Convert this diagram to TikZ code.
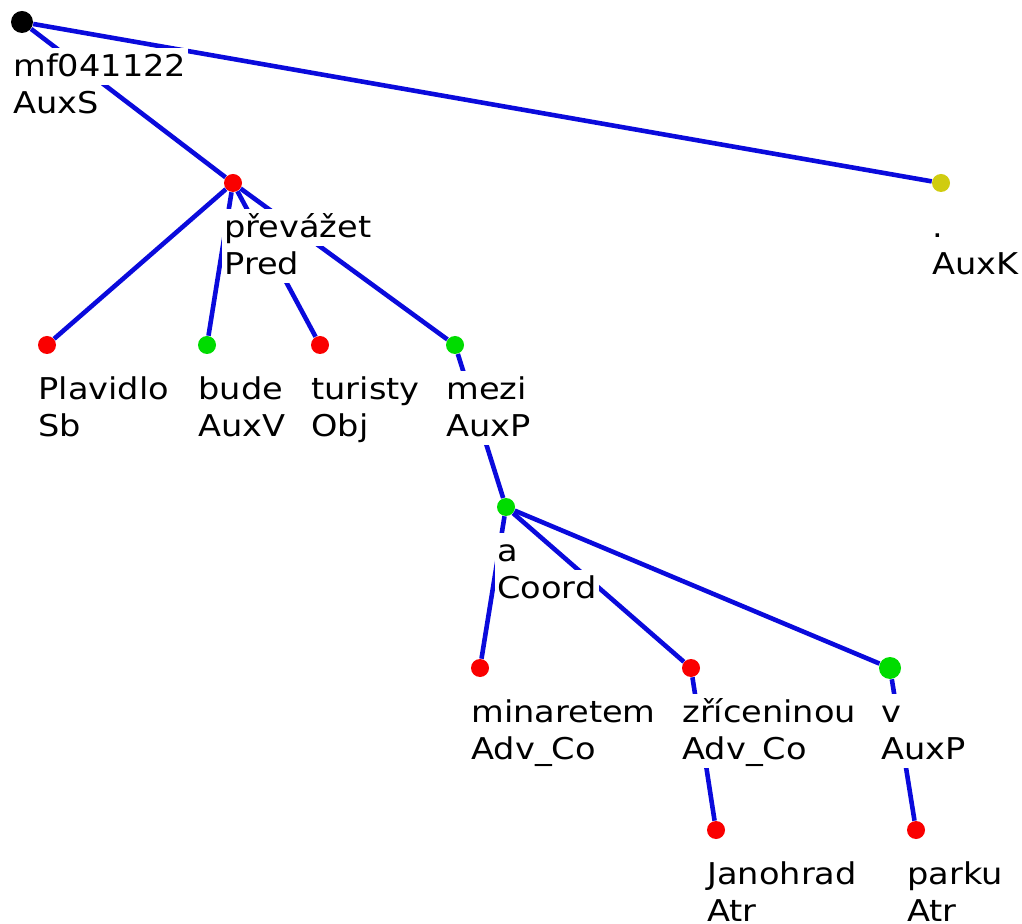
\documentclass[tikz,border=0pt]{standalone}
\usepackage{fontspec}
\setmainfont{DejaVu Sans}[FakeStretch=1.12]
\usepackage{tikz}
\usetikzlibrary{positioning}

\definecolor{treeblue}{RGB}{10,10,220}
\definecolor{nodered}{RGB}{250,0,0}
\definecolor{nodegreen}{RGB}{0,220,0}
\definecolor{nodeyellow}{RGB}{208,204,16}

\setlength{\fboxsep}{1pt}
\newcommand{\tl}[1]{\colorbox{white}{\rule[-3.3pt]{0pt}{16.3pt}#1}}

\begin{document}
\begin{tikzpicture}[x=0.5pt, y=-0.5pt,
        dot/.style={circle, fill=#1, inner sep=0pt, minimum size=9pt},
        bigdot/.style={dot=#1, minimum size=11pt},
        edge/.style={draw=treeblue, line width=2.3pt},
        tag/.style={anchor=north west, inner sep=0pt, align=left,
            font=\fontsize{15}{18.5}\selectfont}]
    \useasboundingbox (0,0) rectangle (1022,924);

    % tree nodes
    \node[bigdot=black] (root) at (22,22) {};
    \node[dot=nodered] (pred) at (233,183) {};
    \node[dot=nodeyellow] (auxk) at (941,183) {};
    \node[dot=nodered] (sb) at (47,345) {};
    \node[dot=nodegreen] (auxv) at (207,345) {};
    \node[dot=nodered] (obj) at (320,345) {};
    \node[dot=nodegreen] (mezi) at (455,345) {};
    \node[dot=nodegreen] (coord) at (506,507) {};
    \node[dot=nodered] (minaretem) at (480,668) {};
    \node[dot=nodered] (zriceninou) at (691,668) {};
    \node[bigdot=nodegreen] (v) at (890,668) {};
    \node[dot=nodered] (janohrad) at (716,830) {};
    \node[dot=nodered] (parku) at (916,830) {};

    % edges
    \foreach \from/\to in {root/pred, root/auxk, pred/sb, pred/auxv, pred/obj,
            pred/mezi, mezi/coord, coord/minaretem, coord/zriceninou, coord/v,
            zriceninou/janohrad, v/parku}
        \draw[edge] (\from) -- (\to);

    % labels
    \node[tag] (rootL) at ([shift={(-11,26)}]root.center) {\tl{mf041122}\\\tl{AuxS}};
    \node[tag] (predL) at ([shift={(-11,26)}]pred.center) {\tl{převážet}\\\tl{Pred}};
    \node[tag] (auxkL) at ([shift={(-11,26)}]auxk.center) {\tl{.}\\\tl{AuxK}};
    \node[tag] (sbL) at ([shift={(-11,26)}]sb.center) {\tl{Plavidlo}\\\tl{Sb}};
    \node[tag] (auxvL) at ([shift={(-11,26)}]auxv.center) {\tl{bude}\\\tl{AuxV}};
    \node[tag] (objL) at ([shift={(-11,26)}]obj.center) {\tl{turisty}\\\tl{Obj}};
    \node[tag] (meziL) at ([shift={(-11,26)}]mezi.center) {\tl{mezi}\\\tl{AuxP}};
    \node[tag] (coordL) at ([shift={(-11,26)}]coord.center) {\tl{a}\\\tl{Coord}};
    \node[tag] (minaretemL) at ([shift={(-11,26)}]minaretem.center) {\tl{minaretem}\\\tl{Adv\_Co}};
    \node[tag] (zriceninouL) at ([shift={(-11,26)}]zriceninou.center) {\tl{zříceninou}\\\tl{Adv\_Co}};
    \node[tag] (vL) at ([shift={(-11,26)}]v.center) {\tl{v}\\\tl{AuxP}};
    \node[tag] (janohradL) at ([shift={(-11,26)}]janohrad.center) {\tl{Janohrad}\\\tl{Atr}};
    \node[tag] (parkuL) at ([shift={(-11,26)}]parku.center) {\tl{parku}\\\tl{Atr}};
\end{tikzpicture}
\end{document}
